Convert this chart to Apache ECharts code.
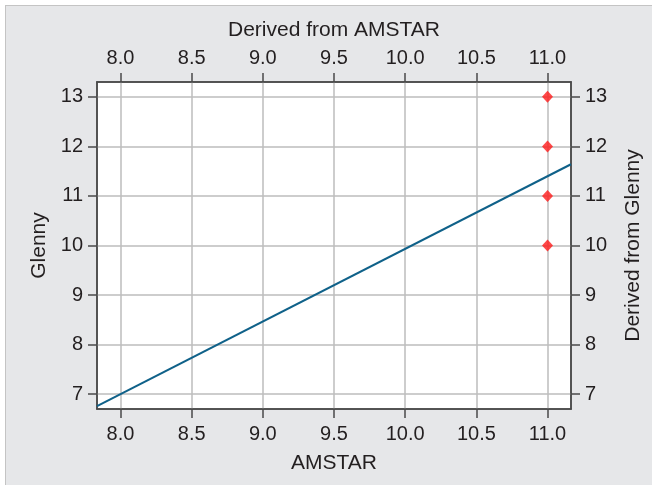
<!DOCTYPE html>
<html>
<head>
<meta charset="utf-8">
<script src="https://cdn.jsdelivr.net/npm/echarts@6/dist/echarts.min.js"></script>
<style>
  html, body { margin: 0; padding: 0; background: #fff; }
  #frame { position: absolute; left: 5px; top: 5px; width: 647px; height: 480px;
           background: #e6e7e9; border-left: 1px solid #c4c4c4; border-top: 1px solid #c4c4c4; }
  #main { position: absolute; left: 0; top: 0; width: 652px; height: 485px; }
</style>
</head>
<body>
<div id="frame"></div>
<div id="main"></div>
<script>
// tick labels
var xTicks = [8.0, 8.5, 9.0, 9.5, 10.0, 10.5, 11.0];
var yTicks = [7, 8, 9, 10, 11, 12, 13];

// fitted line (endpoints at the plot edges)
var fitLine = [[7.835, 6.76], [11.165, 11.64]];

// observed points
var pointsX = [11, 11, 11, 11];
var pointsY = [10, 11, 12, 13];

var xMin = 7.835, xMax = 11.165;
var yMin = 6.7, yMax = 13.3;

var textColor = '#231f20';
var axisColor = '#4a4a4a';
var font = 'Liberation Sans';

function xAxisDef(pos, name, grid, gap, labelMargin) {
    return {
        type: 'value',
        position: pos,
        min: xMin,
        max: xMax,
        name: name,
        nameLocation: 'middle',
        nameGap: gap,
        nameTextStyle: { color: textColor, fontSize: 21, fontFamily: font },
        axisLine: { show: true, onZero: false, lineStyle: { color: axisColor, width: 1.5 } },
        axisTick: { show: true, length: 9, customValues: xTicks, lineStyle: { color: axisColor, width: 1.5 } },
        axisLabel: {
            customValues: xTicks, margin: labelMargin, color: textColor, fontSize: 20, fontFamily: font,
            formatter: function (v) { return v.toFixed(1); }
        },
        splitLine: { show: grid, lineStyle: { color: '#bdbdbd', width: 1.5 } }
    };
}

function yAxisDef(pos, name, grid, gap) {
    return {
        type: 'value',
        position: pos,
        min: yMin,
        max: yMax,
        name: name,
        nameLocation: 'middle',
        nameGap: gap,
        nameTextStyle: { color: textColor, fontSize: 21, fontFamily: font },
        axisLine: { show: true, onZero: false, lineStyle: { color: axisColor, width: 1.5 } },
        axisTick: { show: true, length: 9, customValues: yTicks, lineStyle: { color: axisColor, width: 1.5 } },
        axisLabel: { customValues: yTicks, margin: 14, color: textColor, fontSize: 20, fontFamily: font },
        splitLine: { show: grid, lineStyle: { color: '#bdbdbd', width: 1.5 } }
    };
}

var myChart = echarts.init(document.getElementById('main'));

var option = {
    backgroundColor: 'transparent',
    animation: false,
    grid: {
        left: 97,
        right: 81,
        top: 82,
        bottom: 76,
        show: true,
        backgroundColor: '#ffffff',
        borderColor: axisColor,
        borderWidth: 1.5
    },
    xAxis: [
        xAxisDef('bottom', 'AMSTAR', true, 44, 15),
        xAxisDef('top', 'Derived from AMSTAR', false, 41, 14)
    ],
    yAxis: [
        yAxisDef('left', 'Glenny', true, 45),
        yAxisDef('right', 'Derived from Glenny', false, 52)
    ],
    series: [
        {
            type: 'line',
            data: fitLine,
            symbol: 'none',
            lineStyle: { color: '#0f6189', width: 2 },
            z: 3
        },
        {
            type: 'scatter',
            data: pointsX.map(function (x, i) { return [x, pointsY[i]]; }),
            symbol: 'diamond',
            symbolSize: [11, 12],
            itemStyle: { color: '#ff1a1a' },
            z: 4
        }
    ]
};

myChart.setOption(option);
</script>
</body>
</html>
